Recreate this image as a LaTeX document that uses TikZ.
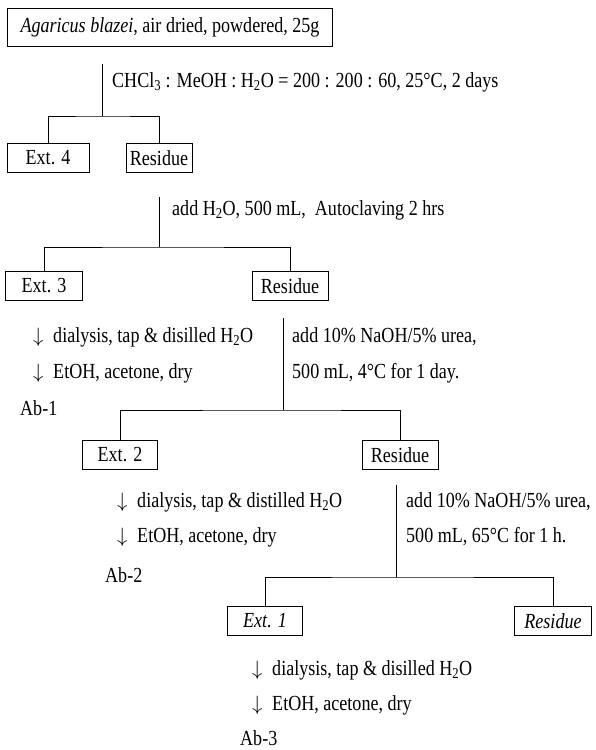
\documentclass[tikz,border=0pt]{standalone}
\usepackage{fontspec}
\setmainfont{Liberation Serif}[FakeStretch=0.84]
\usepackage{tikz}
\usetikzlibrary{positioning}

\newcommand{\stepdown}{$\big\downarrow$\hspace{0.45em}}

\begin{document}
\begin{tikzpicture}[
  x=1pt, y=-1pt,
  font=\fontsize{21.5}{25}\selectfont,
  box_top/.style={draw, line width=1pt, minimum width=325pt, minimum height=38pt, inner sep=2pt},
  box_ext/.style={draw, line width=1pt, minimum width=77pt, minimum height=29pt, inner sep=2pt},
  box_res/.style={draw, line width=1pt, minimum width=72pt, minimum height=29pt, inner sep=2pt},
  label_step/.style={anchor=west, inner sep=0pt},
  flow/.style={line width=0.8pt}
]
\useasboundingbox (0,0) rectangle (595,750);

% Starting material
\node[box_top] (top) at (170,27) {\textit{Agaricus blazei}, air dried, powdered, 25g};

% Step 1: solvent extraction
\coordinate (s1) at (102,64);
\coordinate (j1) at (102,116);
\node[label_step] (cond1) at (112,82)
  {CHCl\textsubscript{3} : MeOH : H\textsubscript{2}O = 200 : 200 : 60, 25°C, 2 days};
\node[box_ext, minimum width=82pt] (ext4) at (48,158) {Ext. 4};
\node[box_res, minimum width=66pt] (res1) at (159,158) {Residue};
\draw[flow] (s1) -- (j1);
\draw[flow] (ext4.north) |- (j1) -| (res1.north);

% Step 2: autoclaving
\coordinate (s2) at (159,197);
\coordinate (j2) at (159,247);
\node[label_step] (cond2) at (172,210) {add H\textsubscript{2}O, 500 mL,\ \ Autoclaving 2 hrs};
\node[box_ext] (ext3) at (44,286) {Ext. 3};
\node[box_res, minimum width=76pt] (res2) at (290,286) {Residue};
\draw[flow] (s2) -- (j2);
\draw[flow] (ext3.north) |- (j2) -| (res2.north);

% Ext. 3 work-up
\node[label_step] (ab1a) at (33,337) {\stepdown dialysis, tap \& disilled H\textsubscript{2}O};
\node[label_step] (ab1b) at (33,373) {\stepdown EtOH, acetone, dry};
\node[label_step] (ab1) at (20,408) {Ab-1};

% Step 3: alkali, 4 C
\coordinate (s3) at (283,318);
\coordinate (j3) at (283,410);
\node[label_step] (cond3a) at (292,337) {add 10\% NaOH/5\% urea,};
\node[label_step] (cond3b) at (292,373) {500 mL, 4°C for 1 day.};
\node[box_ext, minimum width=75pt] (ext2) at (120,455) {Ext. 2};
\node[box_res, minimum width=76pt] (res3) at (400,455) {Residue};
\draw[flow] (s3) -- (j3);
\draw[flow] (ext2.north) |- (j3) -| (res3.north);

% Ext. 2 work-up
\node[label_step] (ab2a) at (117,502) {\stepdown dialysis, tap \& distilled H\textsubscript{2}O};
\node[label_step] (ab2b) at (117,537) {\stepdown EtOH, acetone, dry};
\node[label_step] (ab2) at (105,575) {Ab-2};

% Step 4: alkali, 65 C
\coordinate (s4) at (396,485);
\coordinate (j4) at (396,577);
\node[label_step] (cond4a) at (406,502) {add 10\% NaOH/5\% urea,};
\node[label_step] (cond4b) at (406,537) {500 mL, 65°C for 1 h.};
\node[box_ext, minimum width=75pt] (ext1) at (265,621) {\textit{Ext. 1}};
\node[box_res, minimum width=77pt] (res4) at (553,621) {\textit{Residue}};
\draw[flow] (s4) -- (j4);
\draw[flow] (ext1.north) |- (j4) -| (res4.north);

% Ext. 1 work-up
\node[label_step] (ab3a) at (252,670) {\stepdown dialysis, tap \& disilled H\textsubscript{2}O};
\node[label_step] (ab3b) at (252,705) {\stepdown EtOH, acetone, dry};
\node[label_step] (ab3) at (240,738) {Ab-3};

\end{tikzpicture}
\end{document}
